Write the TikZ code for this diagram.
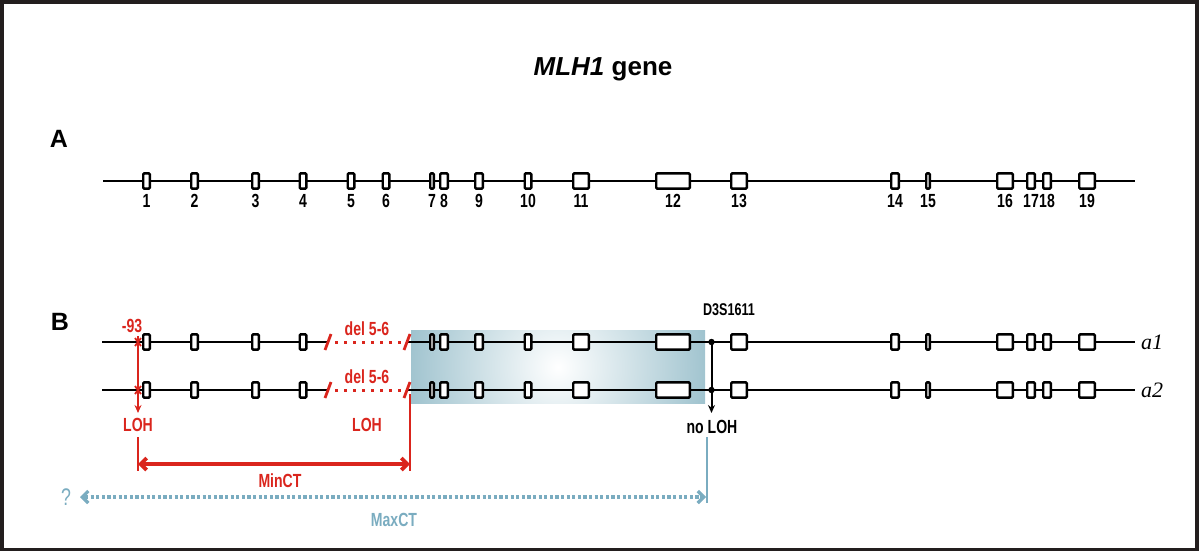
\documentclass[tikz,border=0pt]{standalone}
\usepackage{fontspec}
\setmainfont{Liberation Sans}
\newfontfamily\narrowsans[FakeStretch=0.74]{Liberation Sans}
\newfontfamily\allelefont{Liberation Serif}
\usetikzlibrary{arrows.meta,positioning,calc}
\definecolor{lohred}{RGB}{218,37,29}
\definecolor{regionblue}{RGB}{72,140,162}
\definecolor{maxblue}{RGB}{122,172,192}
\definecolor{framegray}{RGB}{35,30,30}

\pgfdeclareradialshading{regionglow}{\pgfpoint{0bp}{0bp}}{color(0bp)=(white); color(36bp)=(regionblue); color(72bp)=(regionblue)}

% exon number / centre (px) / outer width (px)
\newcommand{\exonlist}{1/146.5/9, 2/194.5/9, 3/255.5/9, 4/303/9, 5/351/9, 6/386/9, 7/432/6, 8/444/10, 9/479/10, 10/528/9, 11/581/18, 12/673/36, 13/739/18, 14/895/10, 15/928/6, 16/1005/18, 17/1031/10, 18/1047/10, 19/1087/18}

\tikzset{
  exon/.style={draw, line width=1.2pt, fill=white, rectangle, rounded corners=0.5pt, minimum height=7.6pt, inner sep=0pt},
  gene/.style={line width=1.1pt},
  exnum/.style={font=\narrowsans\bfseries\fontsize{9.5}{10}\selectfont, inner sep=0pt},
  redtext/.style={font=\narrowsans\bfseries\fontsize{9.5}{10}\selectfont, text=lohred, inner sep=0pt},
  panel/.style={font=\fontsize{12.5}{14}\selectfont\bfseries, inner sep=0pt},
  allele/.style={font=\allelefont\itshape\fontsize{11}{12}\selectfont, inner sep=0pt},
  cut/.style={draw=lohred, line width=1.4pt},
}

\begin{document}
\begin{tikzpicture}[x=0.5pt,y=-0.5pt]
    \useasboundingbox (0,0) rectangle (1200,552);
    \draw[framegray, line width=1.8pt] (1.8,1.8) rectangle (1197,549.5);

    % title and panel letters
    \node[font=\fontsize{13}{15}\selectfont\bfseries, inner sep=0pt] (title) at (603,69) {\textit{MLH1} gene};
    \node[panel] (pa) at (59,139) {A};
    \node[panel] (pb) at (60,322) {B};

    % A: gene structure
    \coordinate (astart) at (103,181);
    \coordinate (aend) at (1135,181);
    \draw[gene] (astart) -- (aend);
    \foreach \i/\cx/\w in \exonlist {
        \node[exon, minimum width={(\w-2.4)*0.5pt}] (ea\i) at (\cx,181) {};
        \node[exnum] (na\i) at (\cx,201) {\i};
    }

    % B: shaded region
    \begin{scope}
        \clip (411,330) rectangle (705,403);
        \shade[shading=regionglow] (558,367) circle (200);
    \end{scope}

    % B: two alleles
    \foreach \al/\y in {1/342, 2/390} {
        \coordinate (bs\al) at (102,\y);
        \coordinate (bc\al) at (328,\y);
        \coordinate (bj\al) at (407,\y);
        \coordinate (be\al) at (1135,\y);
        \draw[gene] (bs\al) -- (bc\al);
        \draw[lohred, line width=1.5pt, dash pattern=on 1.5pt off 3pt] ($(bc\al)+(7,0)$) -- ($(bj\al)+(-5,0)$);
        \draw[gene] (bj\al) -- (be\al);
        \draw[cut] ($(bc\al)+(-3,8)$) -- ($(bc\al)+(3,-8)$);
        \draw[cut] ($(bj\al)+(-3,8)$) -- ($(bj\al)+(3,-8)$);
        \foreach \i/\cx/\w in \exonlist {
            \ifnum\i<5 \node[exon, minimum width={(\w-2.4)*0.5pt}] (eb\al-\i) at (\cx,\y) {};\fi
            \ifnum\i>6 \node[exon, minimum width={(\w-2.4)*0.5pt}] (eb\al-\i) at (\cx,\y) {};\fi
        }
        \node[redtext] (del\al) at (367,\y-13) {del 5-6};
        \node[allele] (al\al) at (1152,\y) {a\al};
    }

    % -93 marker
    \node[redtext] (m93) at (132,326) {-93};
    \coordinate (rtop) at (138,336);
    \coordinate (rbot) at (138,413);
    \draw[lohred, line width=1pt, -{Stealth[length=4pt,width=3.5pt]}] (rtop) -- (rbot);
    \foreach \y in {342,390} {
        \draw[lohred, line width=0.9pt] (135,\y-4) -- (141,\y+4) (135,\y+4) -- (141,\y-4);
    }
    \node[redtext] (lohl) at (138,425) {LOH};
    \node[redtext] (lohr) at (367,425) {LOH};

    % D3S1611 marker
    \node[exnum, font=\narrowsans\bfseries\fontsize{8.5}{9}\selectfont] (dmark) at (729,310) {D3S1611};
    \coordinate (d1) at (711.5,342);
    \coordinate (d2) at (711.5,390);
    \coordinate (dbot) at (711.5,413);
    \fill (d1) circle (3.2);
    \fill (d2) circle (3.2);
    \draw[line width=1pt, -{Stealth[length=4pt,width=3.5pt]}] (d1) -- (dbot);
    \node[exnum] (nologh) at (712,427) {no LOH};

    % MinCT
    \coordinate (minl) at (138,464);
    \coordinate (minr) at (410,464);
    \draw[lohred, line width=0.7pt] (138,437) -- (138,471);
    \draw[lohred, line width=0.7pt] (410,394) -- (410,471);
    \draw[lohred, line width=1.9pt, {Straight Barb[length=3pt,width=6pt]}-{Straight Barb[length=3pt,width=6pt]}] (minl) -- (minr);
    \node[redtext] (mintxt) at (280,481) {MinCT};

    % MaxCT
    \coordinate (maxl) at (80,497);
    \coordinate (maxr) at (706,497);
    \draw[maxblue, line width=0.7pt] (707,437) -- (707,503);
    \draw[maxblue, line width=1.6pt, dash pattern=on 1.6pt off 1.2pt] ($(maxl)+(5,0)$) -- ($(maxr)+(-5,0)$);
    \draw[maxblue, line width=1.6pt, -{Straight Barb[length=3pt,width=6pt]}] ($(maxl)+(6,0)$) -- (maxl);
    \draw[maxblue, line width=1.6pt, -{Straight Barb[length=3pt,width=6pt]}] ($(maxr)+(-6,0)$) -- (maxr);
    \node[font=\narrowsans\fontsize{12}{13}\selectfont, text=maxblue, inner sep=0pt] (qmark) at (66,497) {?};
    \node[exnum, text=maxblue] (maxtxt) at (394,520) {MaxCT};
\end{tikzpicture}
\end{document}
